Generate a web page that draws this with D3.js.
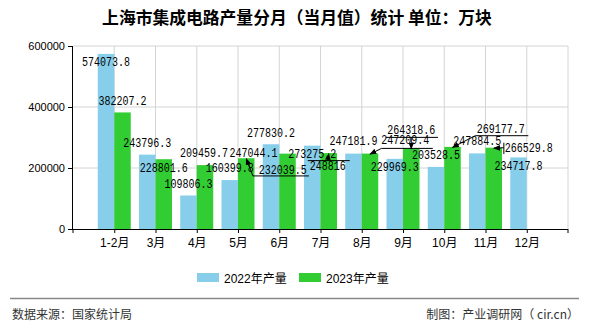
<!DOCTYPE html>
<html><head><meta charset="utf-8">
<script src="https://cdn.jsdelivr.net/npm/d3@7"></script>
<style>
html,body{margin:0;padding:0;background:#fff;}
svg{display:block;}
</style>
</head><body>
<svg id="chart" width="590" height="330"></svg>
<script>
// ---- data ----
const title = "上海市集成电路产量分月（当月值）统计 单位：万块";
const months = ["1-2月","3月","4月","5月","6月","7月","8月","9月","10月","11月","12月"];
const series2022 = [574073.8,243796.3,109806.3,160399.8,277830.2,273275.2,247181.9,229969.3,203528.5,247884.5,234717.8];
const series2023 = [382207.2,228801.6,209459.7,232039.5,247044.1,248816,247209.4,264318.6,269177.7,266529.8,null];
const seriesNames = ["2022年产量","2023年产量"];
const yTicks = [0,200000,400000,600000];
const sourceText = "数据来源：国家统计局";
const makerText = "制图：产业调研网（ cir.cn）";

// ---- label layout (offsets of label centre from bar top, px) ----
const labelOff2022 = [[0,8],[0,-12],[0,-12],[0,-12],[0,-12],[0,8],[0,-12.5],[0,8],[0,-12],[0,-12.5],[0,8.5]];
const labelOff2023 = [[0,-12],[0,8.5],[-1,-12],[36.5,11],[-34,-1],[-1,12.5],[35.3,-13.5],[0,-19],[48.3,-18.6],[35,-0.4],null];
// leaders for 2023 labels: attach point and extra segment, relative to label centre
const leaders2023 = {
  3:{a:[-29.8,6.7], s:[-29.8,6.7,26.2,6.7]},
  5:{a:[0,-5], s:[-20,-5,22,-5]},
  6:{a:[-23.8,8.3], s:[-23.8,8.3,27.5,8.3]},
  7:{a:[0,8], s:[-25.5,8,26.8,8]},
  8:{a:[-25.5,7.4], s:[-25.5,7.4,27.5,7.4]},
  9:{a:[-24.9,0.4], s:[-24.9,-4.6,-24.9,6.7]}
};

const colors = ["#87CEEB","#32CD32"];
const svg = d3.select("#chart");
const L = 73, R = 568, T = 46, B = 229;

const x = d3.scalePoint().domain(months).range([L,R]).padding(1);
const y = d3.scaleLinear().domain([0,600000]).range([B,T]);
const step = x.step();
const bw = step*0.4;

// grid
const g = svg.append("g");
g.selectAll("line.hg").data(yTicks.slice(1)).join("line")
  .attr("x1",L).attr("x2",R).attr("y1",d=>y(d)).attr("y2",d=>y(d))
  .attr("stroke","#d4d4d4").attr("stroke-width",1);
const vx = months.map(m=>x(m)).concat([R]);
g.selectAll("line.vg").data(vx).join("line")
  .attr("x1",d=>d).attr("x2",d=>d).attr("y1",T).attr("y2",B)
  .attr("stroke","#d4d4d4").attr("stroke-width",1);

// bars
const bars = svg.append("g");
bars.selectAll("rect.b22").data(series2022).join("rect")
  .attr("x",(d,i)=>x(months[i])-bw).attr("width",bw)
  .attr("y",d=>y(d)).attr("height",d=>B-y(d)).attr("fill",colors[0]);
bars.selectAll("rect.b23").data(series2023.map((v,i)=>({v,i})).filter(d=>d.v!=null)).join("rect")
  .attr("x",d=>x(months[d.i])).attr("width",bw)
  .attr("y",d=>y(d.v)).attr("height",d=>B-y(d.v)).attr("fill",colors[1]);

// axes
const yAxis = d3.axisLeft(y).tickValues(yTicks).tickSize(5).tickPadding(3).tickFormat(d3.format("d"));
const ya = svg.append("g").attr("transform",`translate(${L},0)`).call(yAxis);
ya.select(".domain").attr("stroke","#000").attr("d",`M-0.5,${T}V${B}`);
ya.selectAll("text").attr("font-family","'Liberation Sans',Arial,sans-serif").attr("font-size",11).attr("fill","#000");

const xa = svg.append("g").attr("transform",`translate(0,${B})`)
  .call(d3.axisBottom(x).tickSize(4).tickPadding(5));
xa.select(".domain").attr("stroke","#000").attr("d",`M${L},0.5H${R}`);
xa.selectAll("text").attr("font-family","'Liberation Sans','Noto Sans CJK SC',sans-serif").attr("font-size",12).attr("fill","#000");
xa.append("line").attr("x1",L).attr("x2",L).attr("y1",0).attr("y2",4).attr("stroke","#000");
xa.append("line").attr("x1",R).attr("x2",R).attr("y1",0).attr("y2",4).attr("stroke","#000");

// arrow marker
svg.append("defs").append("marker").attr("id","arr").attr("viewBox","0 0 10 10")
  .attr("refX",9).attr("refY",5).attr("markerWidth",7).attr("markerHeight",7)
  .attr("orient","auto").attr("markerUnits","userSpaceOnUse")
  .append("path").attr("d","M0,1L10,5L0,9z").attr("fill","#000");

// labels
const lab = svg.append("g");
function fmt(v){ return String(v); }
function addLabel(cx, cy, v){
  const s = fmt(v);
  lab.append("text").attr("x",cx).attr("y",cy).attr("dy","0.36em")
    .attr("text-anchor","middle")
    .attr("font-family","'Liberation Mono','DejaVu Sans Mono',monospace")
    .attr("font-size",12).attr("fill","#000")
    .attr("textLength",s.length*6).attr("lengthAdjust","spacingAndGlyphs")
    .text(s);
}
series2022.forEach((v,i)=>{
  const bx = x(months[i]) - bw/2, by = y(v);
  const o = labelOff2022[i];
  addLabel(bx+o[0], by+o[1], v);
});
series2023.forEach((v,i)=>{
  if(v==null) return;
  const bx = x(months[i]) + bw/2, by = y(v);
  const o = labelOff2023[i];
  const cx = bx+o[0], cy = by+o[1];
  const ld = leaders2023[i];
  if(ld){
    lab.append("line").attr("x1",cx+ld.s[0]).attr("y1",cy+ld.s[1]).attr("x2",cx+ld.s[2]).attr("y2",cy+ld.s[3])
      .attr("stroke","#000").attr("stroke-width",1);
    lab.append("line").attr("x1",cx+ld.a[0]).attr("y1",cy+ld.a[1]).attr("x2",bx).attr("y2",by+0.5)
      .attr("stroke","#000").attr("stroke-width",1).attr("marker-end","url(#arr)");
  }
  addLabel(cx, cy, v);
});

// title
svg.append("text").attr("x",297).attr("y",24).attr("text-anchor","middle")
  .attr("font-family","'Noto Sans CJK SC',sans-serif").attr("font-size",16.8).attr("font-weight","bold")
  .attr("fill","#000").text(title);

// legend
const lg = svg.append("g");
const legX = [197, 299];
seriesNames.forEach((n,i)=>{
  lg.append("rect").attr("x",legX[i]).attr("y",273).attr("width",22).attr("height",9).attr("fill",colors[i]);
  lg.append("text").attr("x",legX[i]+27).attr("y",282.5)
    .attr("font-family","'Liberation Sans','Noto Sans CJK SC',sans-serif").attr("font-size",12).attr("fill","#000").text(n);
});

// footer
svg.append("line").attr("x1",10).attr("x2",579).attr("y1",298.5).attr("y2",298.5).attr("stroke","#888").attr("stroke-width",1.5);
svg.append("text").attr("x",12).attr("y",319).attr("font-family","'Noto Sans CJK SC',sans-serif").attr("font-size",12).attr("fill","#333").text(sourceText);
svg.append("text").attr("x",579).attr("y",319).attr("text-anchor","end").attr("font-family","'Noto Sans CJK SC',sans-serif").attr("font-size",12).attr("fill","#333").text(makerText);
</script>
</body></html>
